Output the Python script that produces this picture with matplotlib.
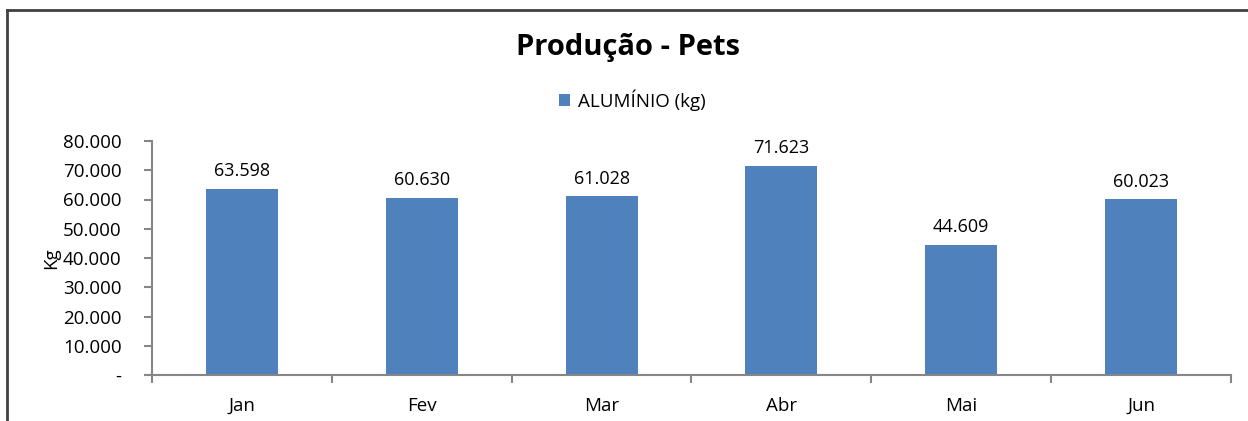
import matplotlib
matplotlib.use("Agg")
import matplotlib.pyplot as plt
from matplotlib.ticker import FuncFormatter, MultipleLocator

months = ["Jan", "Fev", "Mar", "Abr", "Mai", "Jun"]
aluminio = [63598, 60630, 61028, 71623, 44609, 60023]
series_name = "ALUMÍNIO (kg)"
title = "Produção - Pets"
ylabel = "Kg"

plt.rcParams['font.family'] = ['Open Sans', 'DejaVu Sans']

W, H = 1248, 421
fig = plt.figure(figsize=(W / 100, H / 100), dpi=100)
ax = fig.add_axes([152 / W, 1 - 375 / H, (1231 - 152) / W, (375 - 141) / H])

def fmt_num(v):
    return f"{int(round(v)):,}".replace(",", ".")

color = "#4F81BD"
x = list(range(len(months)))
bars = ax.bar(x, aluminio, width=0.4, color=color, label=series_name, zorder=2)

for xi, v in zip(x, aluminio):
    ax.text(xi, v + 3000, fmt_num(v), ha="center", va="bottom", fontsize=13, color="#000000")

ax.set_xlim(-0.5, len(months) - 0.5)
ax.set_ylim(0, 80000)
ax.yaxis.set_major_locator(MultipleLocator(10000))
ax.yaxis.set_major_formatter(FuncFormatter(lambda v, p: "-" if v == 0 else fmt_num(v)))
ax.set_xticks(x)
ax.set_xticklabels(months)
ax.set_xticks([i - 0.5 for i in range(len(months) + 1)], minor=True)
ax.tick_params(axis="x", which="major", length=0, pad=16, labelsize=13.5)
ax.tick_params(axis="x", which="minor", length=6, direction="out", color="#868686", width=1.5)
ax.tick_params(axis="y", which="major", length=6, direction="out", color="#868686", width=1.5, labelsize=13.5, pad=16)

for s in ["top", "right"]:
    ax.spines[s].set_visible(False)
for s in ["left", "bottom"]:
    ax.spines[s].set_color("#868686")
    ax.spines[s].set_linewidth(1.5)

ax.set_ylabel(ylabel, fontsize=13.5, labelpad=2)

fig.text(628 / W, 1 - 47 / H, title, ha="center", va="center", fontsize=21, fontweight="bold")
fig.legend(handles=[bars], labels=[series_name], loc="center", bbox_to_anchor=(632 / W, 1 - 100 / H),
           frameon=False, fontsize=13.5, handlelength=0.6, handleheight=0.6, handletextpad=0.4)

# outer chart frame (top and left visible, cropped at right/bottom)
fig.add_artist(plt.Line2D([7 / W, 1.0], [1 - 10 / H, 1 - 10 / H], transform=fig.transFigure, color="#404040", lw=2))
fig.add_artist(plt.Line2D([7 / W, 7 / W], [1 - 10 / H, 0], transform=fig.transFigure, color="#404040", lw=2))

fig.savefig("out.png", dpi=100)
